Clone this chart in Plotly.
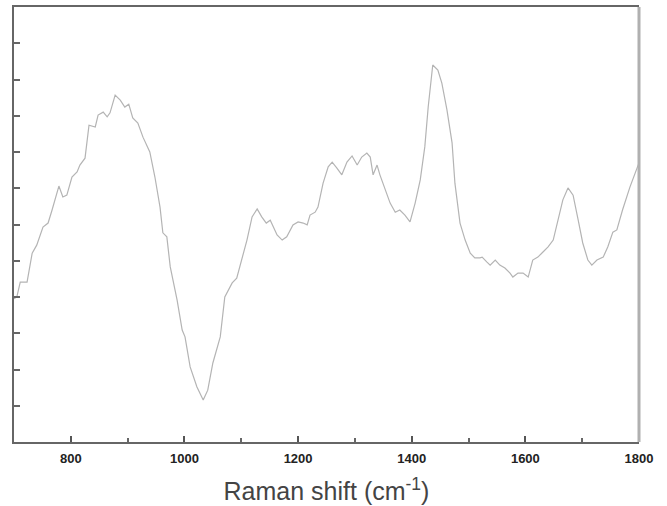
import plotly.graph_objects as go

wavenumber = [700, 705, 711, 714, 723, 732, 740, 751, 760, 767, 776, 779, 786, 793, 802, 811, 816, 825,
              832, 843, 848, 857, 864, 869, 878, 887, 895, 902, 909, 918, 927, 939, 948, 957, 962, 969,
              975, 980, 987, 996, 1001, 1010, 1022, 1033, 1041, 1050, 1063, 1071, 1084, 1092, 1101, 1110,
              1119, 1128, 1136, 1144, 1151, 1163, 1172, 1180, 1191, 1200, 1209, 1216, 1221, 1230, 1235,
              1244, 1253, 1260, 1268, 1277, 1286, 1295, 1304, 1312, 1321, 1327, 1332, 1339, 1344, 1353,
              1362, 1371, 1379, 1388, 1397, 1406, 1415, 1423, 1429, 1437, 1446, 1453, 1462, 1471, 1476,
              1485, 1494, 1503, 1511, 1520, 1524, 1532, 1538, 1547, 1555, 1564, 1573, 1578, 1587, 1596,
              1605, 1613, 1622, 1631, 1640, 1649, 1657, 1666, 1675, 1684, 1693, 1701, 1710, 1717, 1726,
              1737, 1745, 1754, 1761, 1771, 1784, 1796, 1800]
intensity = [3.95, 4.00, 4.41, 4.41, 4.41, 5.21, 5.43, 5.93, 6.04, 6.40, 6.95, 7.06, 6.76, 6.81, 7.31,
             7.45, 7.64, 7.83, 8.74, 8.69, 9.02, 9.10, 8.97, 9.08, 9.57, 9.43, 9.24, 9.32, 8.94, 8.80,
             8.41, 8.00, 7.31, 6.48, 5.77, 5.66, 4.83, 4.47, 3.92, 3.09, 2.90, 2.07, 1.52, 1.16, 1.43,
             2.18, 2.90, 4.00, 4.39, 4.52, 5.02, 5.57, 6.21, 6.43, 6.21, 6.04, 6.12, 5.71, 5.57, 5.66,
             5.99, 6.07, 6.04, 5.99, 6.26, 6.34, 6.48, 7.14, 7.59, 7.72, 7.56, 7.37, 7.72, 7.89, 7.64,
             7.86, 7.97, 7.86, 7.37, 7.64, 7.37, 6.95, 6.59, 6.34, 6.40, 6.26, 6.07, 6.59, 7.23, 8.14,
             9.24, 10.40, 10.26, 9.90, 9.16, 8.25, 7.14, 6.04, 5.57, 5.21, 5.08, 5.08, 5.10, 4.97, 4.88,
             5.02, 4.88, 4.80, 4.66, 4.55, 4.66, 4.66, 4.55, 5.02, 5.10, 5.24, 5.38, 5.57, 6.12, 6.68,
             7.01, 6.81, 6.12, 5.49, 5.02, 4.88, 5.02, 5.10, 5.38, 5.79, 5.85, 6.40, 7.03, 7.50, 7.70]

x_tick_vals = [800, 1000, 1200, 1400, 1600, 1800]
x_tick_text = ["<b>800</b>", "<b>1000</b>", "<b>1200</b>", "<b>1400</b>", "<b>1600</b>", "<b>1800</b>"]
x_title = "Raman shift (cm<sup>-1</sup>)"

fig = go.Figure()
fig.add_trace(go.Scatter(x=wavenumber, y=intensity, mode="lines",
                         line=dict(color="#b4b4b4", width=1.2), showlegend=False,
                         hoverinfo="skip"))

fig.update_layout(
    width=667, height=506,
    margin=dict(l=14, r=28, t=7, b=64),
    paper_bgcolor="white", plot_bgcolor="white",
    font=dict(family="Liberation Sans, Arial, sans-serif", color="#333"),
    xaxis=dict(range=[700, 1800], tickvals=x_tick_vals, ticktext=x_tick_text,
               ticks="inside", ticklen=6, tickwidth=1.5, tickcolor="#555",
               minor=dict(tickvals=[900, 1100, 1300, 1500, 1700], ticks="inside",
                          ticklen=4, tickwidth=1.5, tickcolor="#666", showgrid=False),
               showline=True, linecolor="#666", linewidth=2, mirror=True,
               showgrid=False, zeroline=False, ticklabelstandoff=3, automargin=False,
               tickfont=dict(size=13, family="Liberation Sans, Arial, sans-serif", color="#222"),
               title=dict(text=x_title, font=dict(size=25, color="#444"), standoff=18)),
    yaxis=dict(range=[0, 12], dtick=1, showticklabels=False, automargin=False,
               ticks="inside", ticklen=6, tickwidth=1.5, tickcolor="#666",
               showline=True, linecolor="#666", linewidth=2, mirror=False,
               showgrid=False, zeroline=False),
)
fig.add_shape(type="line", xref="paper", yref="paper", x0=1, x1=1, y0=0, y1=1,
              line=dict(color="#b0b0b0", width=3))

fig.write_html("out.html", config={"displayModeBar": False},
               post_script="document.body.style.margin='0';")
